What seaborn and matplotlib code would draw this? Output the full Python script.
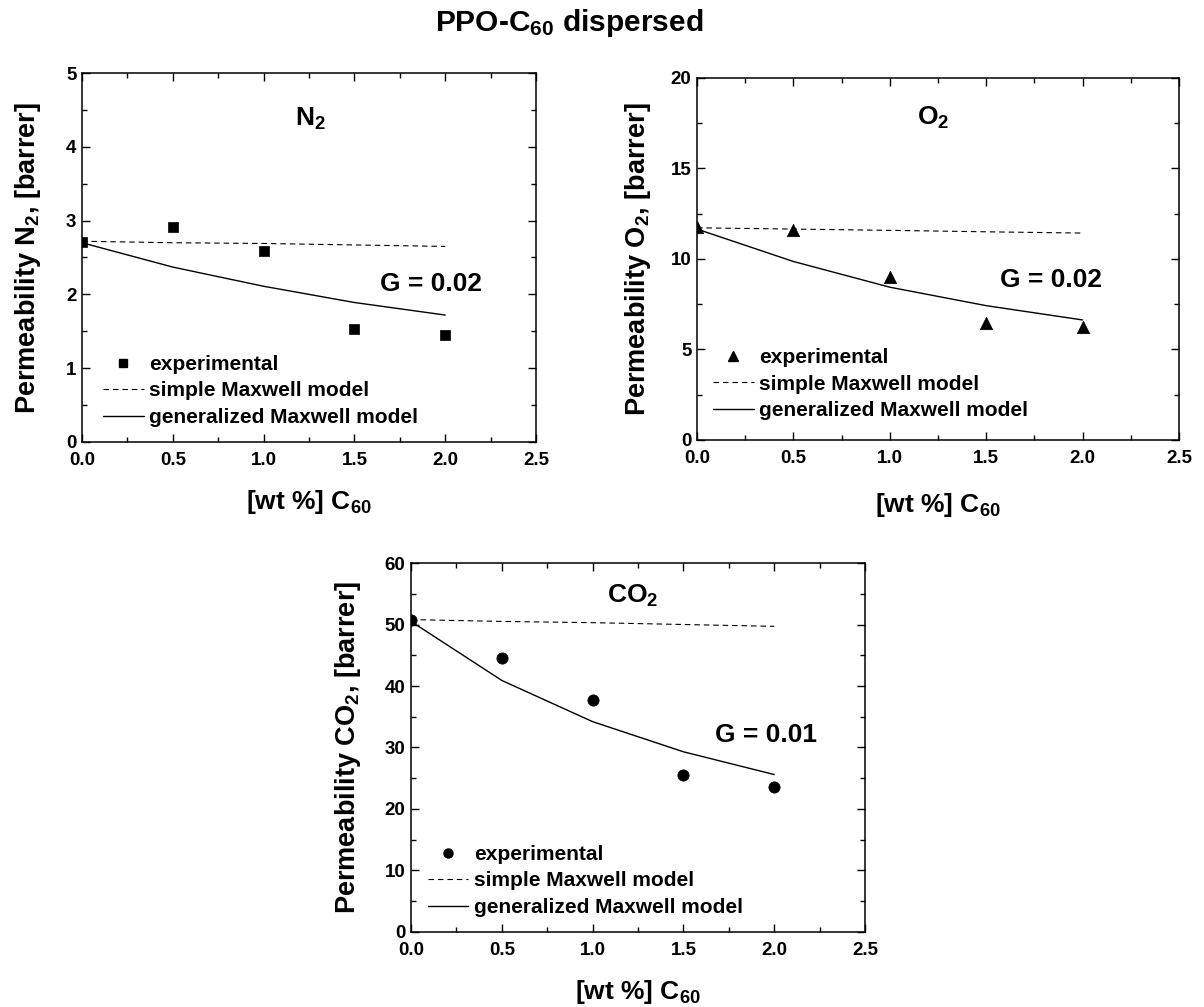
import numpy as np
import matplotlib
matplotlib.use("Agg")
import matplotlib.pyplot as plt
from matplotlib.lines import Line2D
from matplotlib.ticker import MultipleLocator
import seaborn as sns

# ---------------- data ----------------
wt = [0.0, 0.5, 1.0, 1.5, 2.0]

n2_exp = [2.71, 2.91, 2.59, 1.53, 1.45]
n2_simple = [2.72, 2.70, 2.69, 2.67, 2.65]
n2_general = [2.70, 2.37, 2.11, 1.89, 1.72]

o2_exp = [11.76, 11.62, 9.03, 6.46, 6.22]
o2_simple = [11.72, 11.65, 11.58, 11.50, 11.43]
o2_general = [11.65, 9.86, 8.44, 7.42, 6.63]

co2_exp = [50.7, 44.6, 37.8, 25.5, 23.6]
co2_simple = [50.8, 50.5, 50.3, 50.0, 49.7]
co2_general = [50.5, 40.9, 34.2, 29.3, 25.6]

legend_labels = ["experimental", "simple Maxwell model", "generalized Maxwell model"]

# ---------------- style ----------------
sns.set_theme(style="ticks")
plt.rcParams["font.family"] = ["Liberation Sans", "DejaVu Sans"]
plt.rcParams["font.weight"] = "bold"
plt.rcParams["text.color"] = "black"
plt.rcParams["axes.labelcolor"] = "black"
plt.rcParams["xtick.color"] = "black"
plt.rcParams["ytick.color"] = "black"
plt.rcParams["axes.edgecolor"] = "black"
plt.rcParams["mathtext.fontset"] = "custom"
plt.rcParams["mathtext.rm"] = "Liberation Sans:bold"
plt.rcParams["mathtext.bf"] = "Liberation Sans:bold"
plt.rcParams["mathtext.it"] = "Liberation Sans:bold"
plt.rcParams["mathtext.default"] = "bf"

fig = plt.figure(figsize=(12.04, 10.07), dpi=100)

panels = [
    dict(rect=[0.0681, 0.5611, 0.3771, 0.3664], exp=n2_exp, simple=n2_simple, gen=n2_general,
         marker="s", s=52, lm=6.0, ymax=5, ymaj=1, ymin=0.5,
         ylabel="Permeability N$_2$, [barrer]", gas="N$_2$", gas_xy=(1.173, 4.28),
         G="G = 0.02", G_xy=(1.641, 2.046), ylc=-0.086, xlc=-0.125,
         leg=(0.046, 0.236)),
    dict(rect=[0.5789, 0.5631, 0.4003, 0.3595], exp=o2_exp, simple=o2_simple, gen=o2_general,
         marker="^", s=80, lm=7.0, ymax=20, ymaj=5, ymin=2.5,
         ylabel="Permeability O$_2$, [barrer]", gas="O$_2$", gas_xy=(1.141, 17.4),
         G="G = 0.02", G_xy=(1.572, 8.44), ylc=-0.091, xlc=-0.141,
         leg=(0.033, 0.254)),
    dict(rect=[0.3414, 0.0745, 0.3771, 0.3664], exp=co2_exp, simple=co2_simple, gen=co2_general,
         marker="o", s=66, lm=6.5, ymax=60, ymaj=10, ymin=5,
         ylabel="Permeability CO$_2$, [barrer]", gas="CO$_2$", gas_xy=(1.078, 53.5),
         G="G = 0.01", G_xy=(1.674, 30.9), ylc=-0.106, xlc=-0.125,
         leg=(0.037, 0.236)),
]

for p in panels:
    ax = fig.add_axes(p["rect"])
    sns.lineplot(x=wt, y=p["simple"], ax=ax, color="black", linewidth=0.8,
                 linestyle=(0, (5, 3.5)), errorbar=None, sort=False)
    sns.lineplot(x=wt, y=p["gen"], ax=ax, color="black", linewidth=1.0,
                 errorbar=None, sort=False)
    sns.scatterplot(x=wt, y=p["exp"], ax=ax, marker=p["marker"], s=p["s"],
                    color="black", edgecolor="black", linewidth=0.5, legend=False, zorder=5)

    ax.set_xlim(0, 2.5)
    ax.set_ylim(0, p["ymax"])
    ax.xaxis.set_major_locator(MultipleLocator(0.5))
    ax.xaxis.set_minor_locator(MultipleLocator(0.25))
    ax.yaxis.set_major_locator(MultipleLocator(p["ymaj"]))
    ax.yaxis.set_minor_locator(MultipleLocator(p["ymin"]))
    ax.xaxis.set_major_formatter(matplotlib.ticker.FormatStrFormatter("%.1f"))
    ax.yaxis.set_major_formatter(matplotlib.ticker.FormatStrFormatter("%d"))
    ax.tick_params(which="both", direction="in", top=True, right=True,
                   colors="black", width=1.0)
    ax.tick_params(which="major", length=6)
    ax.tick_params(which="minor", length=3.5)
    ax.tick_params(axis="x", which="major", pad=7, labelsize=13.5)
    ax.tick_params(axis="y", which="major", pad=4, labelsize=13.5)
    for lab in ax.get_xticklabels() + ax.get_yticklabels():
        lab.set_fontweight("bold")
    for sp in ax.spines.values():
        sp.set_visible(True)
        sp.set_linewidth(1.1)
        sp.set_color("black")

    ax.set_ylabel(p["ylabel"], fontsize=19.5, fontweight="bold", color="black")
    ax.set_xlabel("[wt %] C$_{60}$", fontsize=19, fontweight="bold", color="black")
    ax.yaxis.set_label_coords(p["ylc"], 0.5)
    ax.yaxis.label.set_verticalalignment("bottom")
    ax.xaxis.set_label_coords(0.5, p["xlc"])
    ax.xaxis.label.set_verticalalignment("top")

    ax.text(p["gas_xy"][0], p["gas_xy"][1], p["gas"], fontsize=19, fontweight="bold",
            ha="left", va="baseline", color="black")
    ax.text(p["G_xy"][0], p["G_xy"][1], p["G"], fontsize=19, fontweight="bold",
            ha="left", va="baseline", color="black")

    handles = [
        Line2D([], [], marker=p["marker"], color="black", linestyle="none", markersize=p["lm"]),
        Line2D([], [], color="black", linewidth=0.8, linestyle=(0, (5, 3.5))),
        Line2D([], [], color="black", linewidth=1.0),
    ]
    leg = ax.legend(handles, legend_labels, loc="upper left", bbox_to_anchor=p["leg"],
                    frameon=False, borderaxespad=0, borderpad=0, handlelength=1.95,
                    handletextpad=0.25, labelspacing=0.36,
                    prop=dict(size=15, weight="bold"))
    for t in leg.get_texts():
        t.set_color("black")

fig.text(0.473, 0.969, "PPO-C$_{60}$ dispersed", fontsize=21.5, fontweight="bold",
         ha="center", va="baseline", color="black")

fig.savefig("out.png", dpi=100)
